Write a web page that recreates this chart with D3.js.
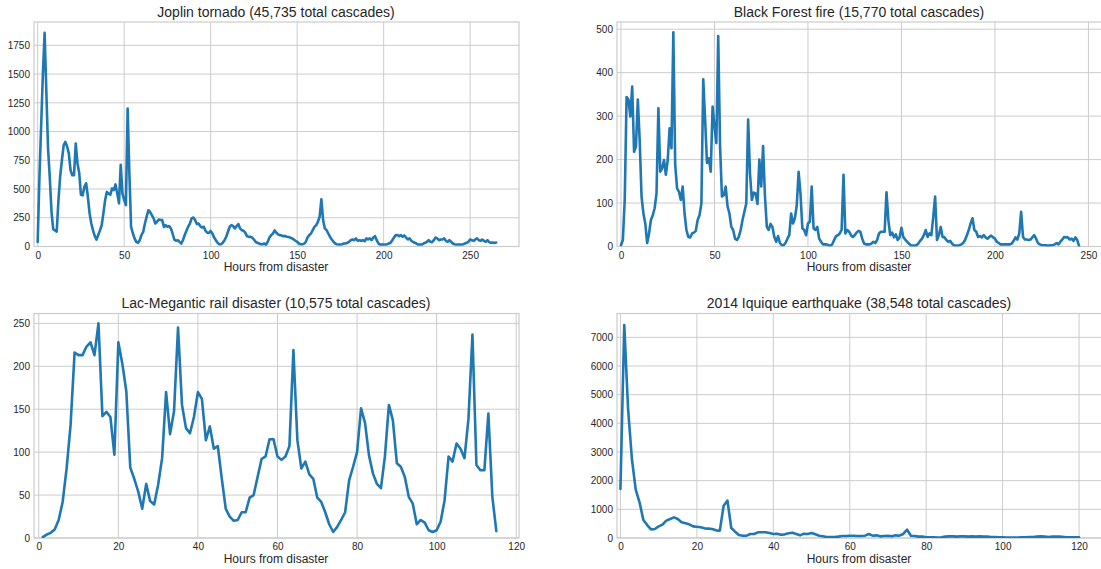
<!DOCTYPE html>
<html>
<head>
<meta charset="utf-8">
<script src="https://cdn.jsdelivr.net/npm/d3@7"></script>
<style>
  html, body { margin: 0; padding: 0; background: #fff; }
  svg { display: block; font-family: "Liberation Sans", Arial, sans-serif; }
</style>
</head>
<body>
<svg id="chart" width="1101" height="569"></svg>
<script>
// ---------- data (hourly counts) ----------
const titles = [
  "Joplin tornado (45,735 total cascades)",
  "Black Forest fire (15,770 total cascades)",
  "Lac-Megantic rail disaster (10,575 total cascades)",
  "2014 Iquique earthquake (38,548 total cascades)"
];
const xLabel = "Hours from disaster";

// Joplin: hours 0..265
const joplin = [40,600,1050,1500,1860,1350,850,600,300,150,140,130,
400,610,750,880,910,870,810,665,620,620,895,725,640,450,445,520,550,435,290,200,140,90,60,100,140,185,290,405,475,460,450,505,490,540,460,375,710,460,405,360,1200,640,170,115,70,40,32,55,
100,128,200,260,315,300,272,245,200,215,235,230,230,170,185,172,178,157,113,60,50,55,40,26,55,100,137,172,200,245,252,230,195,200,177,165,172,137,120,118,
135,113,78,55,32,20,20,32,55,85,128,172,186,177,157,178,195,157,142,137,120,90,84,84,78,61,41,32,26,20,20,26,17,41,78,99,113,140,120,105,
99,95,90,92,85,82,78,70,61,50,41,26,20,20,24,41,78,99,113,142,171,186,215,259,410,230,157,142,113,84,61,41,26,20,17,17,20,26,26,32,
41,55,61,55,70,49,55,50,55,46,70,61,70,55,78,90,55,26,17,17,17,17,20,26,32,55,78,99,99,90,99,84,96,78,61,70,49,41,32,26,
17,17,17,26,32,41,55,41,38,55,78,70,55,61,61,70,49,41,55,41,26,20,17,17,17,17,20,26,32,41,61,55,49,61,70,55,49,61,49,41,
55,38,32,35,30,35];

// Black Forest: hours 0..245
const blackForest = [3,15,107,344,338,299,368,218,230,338,245,115,76,53,8,30,61,72,88,122,318,172,180,199,165,199,272,226,493,188,134,126,107,138,76,38,22,21,30,32,
36,61,72,99,385,291,192,203,172,322,276,238,484,230,115,118,138,92,76,45,38,18,15,22,38,61,80,99,292,168,107,124,122,98,200,138,231,115,45,38,
52,45,22,11,24,8,3,3,8,18,26,76,53,65,95,172,122,42,38,26,53,57,138,42,38,45,18,11,5,5,5,3,2,5,15,24,26,30,38,165,
30,38,34,26,22,26,32,36,34,18,7,5,5,5,7,11,8,15,30,34,34,34,125,60,26,32,21,28,15,21,43,22,16,11,7,3,2,2,3,7,
13,18,26,38,22,30,26,68,115,15,26,45,22,21,15,11,13,7,3,2,2,3,5,8,15,26,38,53,65,38,34,22,24,21,26,21,18,22,25,21,
18,11,8,5,5,5,5,5,5,7,13,21,16,30,80,22,16,16,15,16,21,26,18,8,5,3,3,3,2,2,3,3,5,8,5,11,16,22,21,21,
16,18,13,21,15,1];

// Lac-Megantic: hours 1..115
const lacStartHour = 1;
const lacMegantic = [1,4,6,10,21,42,81,132,216,213,213,223,228,213,250,142,147,141,97,228,
203,171,82,69,54,34,63,43,39,62,93,170,121,148,245,155,128,122,141,170,
162,114,130,104,107,69,34,25,20,21,30,30,47,50,71,92,95,115,115,95,
91,95,107,219,114,81,89,74,69,47,42,30,16,7,13,21,30,67,83,100,
151,134,96,75,63,58,95,155,137,87,83,71,48,40,16,21,18,9,7,9,
19,44,95,89,110,104,93,139,237,85,79,79,145,48,8];

// Iquique: hours 0..120
const iquique = [1710,7430,4500,2756,1686,1244,628,453,302,314,407,465,605,663,721,663,547,512,477,407,
395,372,337,326,314,267,256,1128,1303,349,221,105,81,81,140,140,198,198,198,174,
140,151,116,128,163,186,140,93,151,140,174,128,81,58,35,35,35,47,70,70,
81,81,70,70,81,140,81,93,58,70,81,58,93,81,140,290,81,70,47,47,
23,23,23,12,23,47,58,58,47,58,58,47,58,47,58,47,47,35,35,23,
23,12,12,12,12,23,23,35,35,47,58,47,35,47,47,47,35,23,23,23,23];

const xTicksTop = [0,50,100,150,200,250];
const xTicksBottom = [0,20,40,60,80,100,120];
const yTicksJoplin = [0,250,500,750,1000,1250,1500,1750];
const yTicksBlackForest = [0,100,200,300,400,500];
const yTicksLac = [0,50,100,150,200,250];
const yTicksIquique = [0,1000,2000,3000,4000,5000,6000,7000];

// ---------- layout ----------
const svg = d3.select("#chart");
const lineColor = "#1f77b4";
const gridColor = "#cccccc";
const textColor = "#262626";

const panels = [
  {title: titles[0], values: joplin, start: 0, left: 34, top: 22, xDom: [-2.13, 278.25], yDom: [0, 1953], xTicks: xTicksTop, yTicks: yTicksJoplin},
  {title: titles[1], values: blackForest, start: 0, left: 617, top: 22, xDom: [-2.13, 257.25], yDom: [0, 516.6], xTicks: xTicksTop, yTicks: yTicksBlackForest},
  {title: titles[2], values: lacMegantic, start: lacStartHour, left: 34, top: 313.5, xDom: [-1.2, 120.7], yDom: [0, 261.5], xTicks: xTicksBottom, yTicks: yTicksLac},
  {title: titles[3], values: iquique, start: 0, left: 617, top: 313.5, xDom: [-0.9, 126], yDom: [0, 7832], xTicks: xTicksBottom, yTicks: yTicksIquique}
];
const W = 485, H = 224.5;

panels.forEach((p, i) => {
  const x = d3.scaleLinear().domain(p.xDom).range([p.left, p.left + W]);
  const y = d3.scaleLinear().domain(p.yDom).range([p.top + H, p.top]);
  const g = svg.append("g");

  // clip
  const clipId = "clip" + i;
  svg.append("clipPath").attr("id", clipId)
    .append("rect").attr("x", p.left).attr("y", p.top).attr("width", W).attr("height", H);

  // grid
  g.selectAll(".vg").data(p.xTicks).join("line")
    .attr("x1", d => x(d)).attr("x2", d => x(d))
    .attr("y1", p.top).attr("y2", p.top + H)
    .attr("stroke", gridColor).attr("stroke-width", 1);
  g.selectAll(".hg").data(p.yTicks).join("line")
    .attr("class", "hg")
    .attr("x1", p.left).attr("x2", p.left + W)
    .attr("y1", d => y(d)).attr("y2", d => y(d))
    .attr("stroke", gridColor).attr("stroke-width", 1);

  // frame
  g.append("rect").attr("x", p.left).attr("y", p.top).attr("width", W).attr("height", H)
    .attr("fill", "none").attr("stroke", gridColor).attr("stroke-width", 1.2);

  // axes tick labels (via d3 axes, lines hidden)
  const xAxis = d3.axisBottom(x).tickValues(p.xTicks).tickSize(0).tickPadding(5).tickFormat(d3.format("d"));
  const xg = svg.append("g").attr("transform", `translate(0,${p.top + H})`).call(xAxis);
  xg.select(".domain").remove();
  xg.selectAll("text").attr("fill", textColor).style("font-size", "10px").style("font-family", "'Liberation Sans', Arial, sans-serif");

  const yAxis = d3.axisLeft(y).tickValues(p.yTicks).tickSize(0).tickPadding(4).tickFormat(d3.format("d"));
  const yg = svg.append("g").attr("transform", `translate(${p.left},0)`).call(yAxis);
  yg.select(".domain").remove();
  yg.selectAll("text").attr("fill", textColor).style("font-size", "10px").style("font-family", "'Liberation Sans', Arial, sans-serif");

  // line
  const line = d3.line().x((d, j) => x(p.start + j)).y(d => y(d));
  svg.append("path").datum(p.values)
    .attr("clip-path", `url(#${clipId})`)
    .attr("d", line)
    .attr("fill", "none").attr("stroke", lineColor).attr("stroke-width", 2.6)
    .attr("stroke-linejoin", "round").attr("stroke-linecap", "round");

  // title
  svg.append("text").attr("x", p.left + W / 2 - 0.5).attr("y", p.top - 5.5)
    .attr("text-anchor", "middle").attr("fill", textColor)
    .style("font-size", "14px").text(p.title);

  // x label
  svg.append("text").attr("x", p.left + W / 2 - 0.5).attr("y", p.top + H + 24.5)
    .attr("text-anchor", "middle").attr("fill", textColor)
    .style("font-size", "12px").text(xLabel);
});
</script>
</body>
</html>
